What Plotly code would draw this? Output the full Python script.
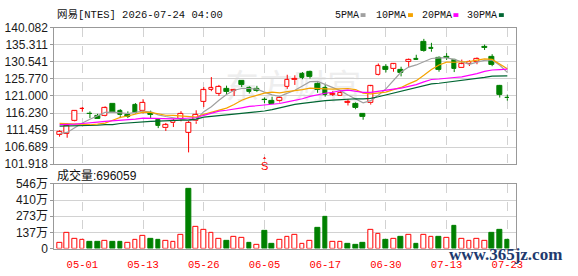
import plotly.graph_objects as go

W, H = 578, 276


def px(x):
    return x / W


def py(y):
    return 1 - y / H


# ---------------- data ----------------
dates = [
    "2026-04-28", "2026-04-29", "2026-04-30", "2026-05-01",
    "2026-05-04", "2026-05-05", "2026-05-06", "2026-05-07", "2026-05-08",
    "2026-05-11", "2026-05-12", "2026-05-13", "2026-05-14", "2026-05-15",
    "2026-05-18", "2026-05-19", "2026-05-20", "2026-05-21", "2026-05-22",
    "2026-05-26", "2026-05-27", "2026-05-28", "2026-05-29",
    "2026-06-01", "2026-06-02", "2026-06-03", "2026-06-04", "2026-06-05",
    "2026-06-08", "2026-06-09", "2026-06-10", "2026-06-11", "2026-06-12",
    "2026-06-15", "2026-06-16", "2026-06-17", "2026-06-18",
    "2026-06-22", "2026-06-23", "2026-06-24", "2026-06-25", "2026-06-26",
    "2026-06-29", "2026-06-30", "2026-07-01", "2026-07-02",
    "2026-07-06", "2026-07-07", "2026-07-08", "2026-07-09", "2026-07-10",
    "2026-07-13", "2026-07-14", "2026-07-15", "2026-07-16", "2026-07-17",
    "2026-07-20", "2026-07-21", "2026-07-22", "2026-07-23",
]

opens = [110.1, 110.5, 113.9, 117.4, 116.1, 115.4, 115.4, 118.7, 116.8, 115.7,
         118.5, 116.75, 116.4, 114.2, 112.0, 113.4, 114.6, 110.8, 113.9, 119.4,
         122.8, 121.7, 123.0, 122.5, 125.3, 123.4, 123.0, 119.9, 119.6, 119.5,
         123.5, 125.45, 127.2, 127.7, 124.4, 123.4, 121.4, 121.0, 119.2, 118.7,
         115.85, 119.0, 126.8, 129.2, 128.55, 128.3, 130.6, 131.35, 136.3, 134.6,
         131.7, 131.9, 131.0, 129.0, 130.1, 130.6, 134.65, 131.9, 123.85, 120.4]
highs = [111.4, 113.4, 116.8, 117.9, 116.7, 116.0, 118.1, 118.7, 117.3, 116.7,
         119.0, 120.1, 116.9, 114.5, 113.45, 114.6, 116.75, 114.1, 117.0, 123.5,
         126.3, 124.1, 123.9, 123.0, 125.3, 123.7, 123.85, 120.6, 120.8, 120.9,
         126.95, 126.8, 127.7, 128.1, 124.8, 124.4, 122.35, 122.5, 120.1, 119.2,
         116.1, 124.1, 130.1, 129.9, 130.1, 129.2, 131.5, 132.55, 137.0, 135.9,
         132.1, 133.0, 131.4, 131.2, 131.0, 131.8, 135.4, 132.7, 124.1, 121.4]
lows = [109.6, 109.3, 113.8, 116.6, 114.8, 114.5, 115.3, 116.3, 114.8, 114.8,
        116.1, 116.1, 114.8, 112.0, 111.2, 112.3, 113.9, 105.2, 113.2, 117.9,
        122.35, 121.0, 121.4, 121.0, 123.5, 121.7, 122.1, 119.0, 118.8, 119.2,
        123.0, 124.1, 125.7, 125.9, 121.9, 120.8, 121.0, 121.0, 118.35, 117.3,
        114.35, 118.6, 126.7, 127.6, 127.8, 126.5, 129.0, 131.1, 133.4, 133.4,
        127.8, 131.1, 127.7, 129.0, 129.4, 129.9, 133.9, 129.35, 120.56, 119.7]
closes = [111.0, 112.6, 116.75, 117.5, 116.0, 114.5, 117.6, 116.4, 115.6, 115.2,
          116.4, 119.2, 115.7, 112.6, 112.8, 114.1, 115.95, 113.6, 115.7, 122.6,
          123.2, 123.5, 122.2, 122.8, 124.1, 122.1, 122.35, 119.8, 118.8, 120.6,
          125.6, 125.9, 126.1, 126.3, 122.8, 121.4, 121.6, 121.8, 119.3, 117.6,
          115.15, 123.7, 129.35, 128.4, 129.9, 127.4, 131.2, 131.25, 133.6, 134.1,
          128.3, 131.8, 128.55, 129.9, 130.5, 131.5, 134.55, 129.7, 121.45, 120.35]

ma5 = [110.5, 110.8, 112.1, 113.45, 114.5, 115.4, 116.4, 116.5, 116.3, 116.1,
       116.4, 116.8, 116.5, 115.7, 115.25, 114.97, 114.5, 114.1, 114.35, 116.6,
       118.0, 119.8, 121.44, 122.6, 123.1, 123.1, 122.9, 122.1, 121.3, 120.9,
       121.8, 122.6, 123.8, 125.0, 125.1, 124.2, 123.3, 122.5, 121.3, 120.2,
       119.1, 119.7, 121.2, 123.0, 125.4, 127.7, 129.1, 129.7, 130.6, 131.5,
       131.7, 131.7, 131.25, 130.55, 129.85, 130.5, 131.0, 131.1, 129.6, 127.6]
ma10 = [113.3, 113.25, 113.0, 112.95, 112.95, 113.1, 113.4, 114.2, 115.0, 115.4,
        115.86, 116.5, 116.4, 115.92, 115.6, 115.56, 115.4, 115.1, 115.1, 115.87,
        116.5, 116.98, 117.6, 118.6, 119.8, 120.6, 121.2, 121.8, 122.1, 121.9,
        122.2, 122.4, 122.8, 123.2, 123.0, 123.0, 122.9, 123.1, 123.1, 122.8,
        121.8, 121.6, 121.9, 122.1, 122.8, 123.4, 124.4, 125.3, 126.8, 128.4,
        129.7, 130.5, 130.45, 130.6, 130.66, 131.07, 131.4, 131.25, 130.0, 128.66]
ma20 = [113.0, 113.0, 113.1, 113.3, 113.4, 113.7, 113.9, 114.0, 114.2, 114.35,
        114.5, 114.8, 114.7, 114.6, 114.6, 114.6, 114.7, 114.75, 114.9, 115.59,
        116.2, 116.75, 117.0, 117.28, 117.69, 118.07, 118.3, 118.48, 118.64, 118.9,
        119.37, 119.7, 120.22, 120.9, 121.4, 121.77, 122.05, 122.46, 122.64, 122.39,
        121.99, 122.0, 122.36, 122.64, 122.93, 123.19, 123.64, 124.2, 124.95, 125.62,
        125.76, 126.05, 126.18, 126.36, 126.74, 127.25, 127.9, 128.29, 128.4, 128.53]
ma30 = [112.57, 112.6, 112.6, 112.75, 112.75, 112.8, 113.0, 113.0, 113.3, 113.45,
        113.7, 113.9, 113.9, 113.95, 114.0, 114.08, 114.1, 114.3, 114.5, 115.1,
        115.3, 115.6, 115.7, 115.9, 116.1, 116.4, 116.6, 116.8, 117.2, 117.7,
        118.2, 118.64, 118.95, 119.24, 119.47, 119.7, 119.83, 120.01, 120.14, 120.22,
        120.18, 120.33, 120.78, 121.31, 121.88, 122.32, 122.83, 123.42, 124.01, 124.4,
        124.57, 124.84, 125.06, 125.29, 125.5, 125.82, 126.23, 126.56, 126.64, 126.64]

volumes = [480000, 1360000, 820000, 740000, 580000, 580000, 660000, 580000, 580000, 480000,
           740000, 1060000, 820000, 740000, 660000, 560000, 1140000, 5060000, 1860000, 1540000,
           1360000, 820000, 660000, 980000, 880000, 500000, 340000, 1460000, 420000, 720000,
           960000, 1200000, 420000, 660000, 1730000, 2660000, 560000, 560000, 420000, 340000,
           500000, 1540000, 1280000, 740000, 820000, 1000000, 1140000, 420000, 1140000, 1000000,
           1000000, 880000, 1880000, 820000, 640000, 820000, 660000, 1320000, 1620000, 696059]
# 1 = red (up) volume bar, 0 = green (down) volume bar
vol_up = [1, 1, 1, 1, 0, 0, 1, 0, 0, 1,
          1, 1, 0, 0, 1, 1, 1, 0, 1, 1,
          1, 1, 0, 1, 1, 0, 1, 0, 0, 1,
          1, 1, 1, 1, 0, 0, 1, 1, 0, 0,
          0, 1, 1, 0, 1, 0, 1, 0, 1, 1,
          0, 1, 0, 1, 1, 1, 1, 0, 0, 0]

label_dates = ["2026-05-01", "2026-05-13", "2026-05-26", "2026-06-05",
               "2026-06-17", "2026-06-30", "2026-07-13", "2026-07-23"]
price_ticks = [101.918, 106.689, 111.459, 116.230, 121.000, 125.770, 130.541, 135.311, 140.082]
vol_ticks = [0, 1365000, 2730000, 4095000, 5460000]
vol_tick_text = ["0", "137万", "273万", "410万", "546万"]
ma_names = ["5PMA", "10PMA", "20PMA", "30PMA"]
ma_colors = ["#a0a0a0", "#f5a300", "#ff00ff", "#006633"]
title_text = "网易[NTES] 2026-07-24 04:00"
signal_date = "2026-06-05"

RED = "#ff0000"
GREEN = "#008000"
MONO = "Liberation Mono, Noto Sans CJK SC, monospace"
SANS = "Liberation Sans, Noto Sans CJK SC, Arial, sans-serif"

fig = go.Figure()

up = [c >= o for o, c in zip(opens, closes)]

# wicks
for flag, col in ((True, RED), (False, GREEN)):
    xs, ys = [], []
    for d, o, h, l, c, u in zip(dates, opens, highs, lows, closes, up):
        if u != flag:
            continue
        top, bot = max(o, c), min(o, c)
        if h > top:
            xs += [d, d, None]
            ys += [top, h, None]
        if l < bot:
            xs += [d, d, None]
            ys += [bot, l, None]
    fig.add_trace(go.Scatter(x=xs, y=ys, mode="lines", line=dict(color=col, width=1),
                             xaxis="x", yaxis="y", hoverinfo="skip", showlegend=False))

# candle bodies
fig.add_trace(go.Bar(
    x=dates,
    base=[min(o, c) for o, c in zip(opens, closes)],
    y=[max(abs(c - o), 0.06) for o, c in zip(opens, closes)],
    width=0.62,
    marker=dict(color=["#ffffff" if u else GREEN for u in up],
                line=dict(color=[RED if u else GREEN for u in up], width=1)),
    xaxis="x", yaxis="y", hoverinfo="skip", showlegend=False))

# moving averages
for vals, col in zip((ma5, ma10, ma20, ma30), ma_colors):
    fig.add_trace(go.Scatter(x=dates, y=vals, mode="lines", line=dict(color=col, width=1.2),
                             xaxis="x", yaxis="y", hoverinfo="skip", showlegend=False))

# volume
fig.add_trace(go.Bar(
    x=dates, y=volumes, width=0.62,
    marker=dict(color=["#ffffff" if u else GREEN for u in vol_up],
                line=dict(color=[RED if u else GREEN for u in vol_up], width=1)),
    xaxis="x2", yaxis="y2", hoverinfo="skip", showlegend=False))

FRAME = "#999999"
GRID = "#d2d2d2"

xcommon = dict(
    type="category", categoryorder="array", categoryarray=dates,
    range=[-0.69, 60.1], domain=[px(55), px(522)],
    tickmode="array", tickvals=label_dates,
    showgrid=True, gridcolor=GRID, griddash="dash", gridwidth=1,
    showline=True, mirror=True, linecolor=FRAME, linewidth=1,
    zeroline=False, fixedrange=True,
)

fig.update_layout(
    width=W, height=H,
    margin=dict(l=0, r=0, t=0, b=0),
    paper_bgcolor="white", plot_bgcolor="white",
    bargap=0,
    showlegend=False,
    xaxis=dict(xcommon, anchor="y", showticklabels=False, ticks=""),
    xaxis2=dict(xcommon, anchor="y2", matches="x",
                ticktext=[d[5:] for d in label_dates],
                ticks="outside", ticklen=6, tickcolor="rgba(0,0,0,0)",
                tickfont=dict(family=MONO, size=10.5, color=RED)),
    yaxis=dict(domain=[py(165.5), py(22)], range=[price_ticks[0], price_ticks[-1]],
               tickmode="array", tickvals=price_ticks,
               ticktext=["%.3f" % v for v in price_ticks],
               showgrid=True, gridcolor=GRID, gridwidth=1,
               showline=True, mirror=True, linecolor=FRAME, linewidth=1,
               ticks="outside", ticklen=3, tickcolor=FRAME,
               tickfont=dict(family=SANS, size=12, color="#1a1a1a"),
               zeroline=False, fixedrange=True, anchor="x"),
    yaxis2=dict(domain=[py(254.5), py(186.3)], range=[0, vol_ticks[-1]],
                tickmode="array", tickvals=vol_ticks, ticktext=vol_tick_text,
                showgrid=True, gridcolor=GRID, gridwidth=1,
                showline=True, mirror=True, linecolor=FRAME, linewidth=1,
                ticks="outside", ticklen=3, tickcolor=FRAME,
                tickfont=dict(family=SANS, size=12, color="#1a1a1a"),
                zeroline=False, fixedrange=True, anchor="x2"),
)

annotations = [
    dict(text=title_text, x=px(56), y=py(8.5), xref="paper", yref="paper",
         xanchor="left", yanchor="middle", showarrow=False,
         font=dict(family=MONO, size=10.5, color="#111111")),
    dict(text="成交量:%d" % volumes[-1], x=px(56), y=py(177), xref="paper", yref="paper",
         xanchor="left", yanchor="middle", showarrow=False,
         font=dict(family=SANS, size=12, color="#111111")),
    dict(text="S", x=signal_date, y=103.9, xref="x", yref="y",
         showarrow=True, arrowhead=1, arrowsize=0.6, arrowwidth=1, arrowcolor=RED,
         ax=0, ay=9, font=dict(family=SANS, size=11, color=RED)),
    dict(text="<b>www.365jz.com</b>", x=px(512), y=py(261), xref="paper", yref="paper",
         xanchor="center", yanchor="middle", showarrow=False,
         font=dict(family="Liberation Serif, serif", size=17, color="#1e3a6e")),
]

legend_x = [338, 380, 426, 472]
shapes = []
for name, col, lx in zip(ma_names, ma_colors, legend_x):
    annotations.append(dict(text=name, x=px(lx - 1), y=py(8.5), xref="paper", yref="paper",
                            xanchor="left", yanchor="middle", showarrow=False,
                            font=dict(family=MONO, size=10, color="#111111")))
    sx = lx + 6 * len(name) + 3
    shapes.append(dict(type="rect", xref="paper", yref="paper",
                       x0=px(sx), x1=px(sx + 5), y0=py(10.5), y1=py(6.5),
                       fillcolor=col, line=dict(width=0)))

# faint background watermark
shapes.append(dict(type="rect", xref="x", yref="y", x0=19.8, x1=41.8, y0=119.0, y1=126.5,
                   line=dict(width=0), fillcolor="rgba(0,0,0,0)", layer="below",
                   label=dict(text="东方财富", textposition="middle center",
                              font=dict(family="Noto Sans CJK SC", size=34, color="#eeeeee"))))

fig.update_layout(annotations=annotations, shapes=shapes)

fig.write_html("out.html")
